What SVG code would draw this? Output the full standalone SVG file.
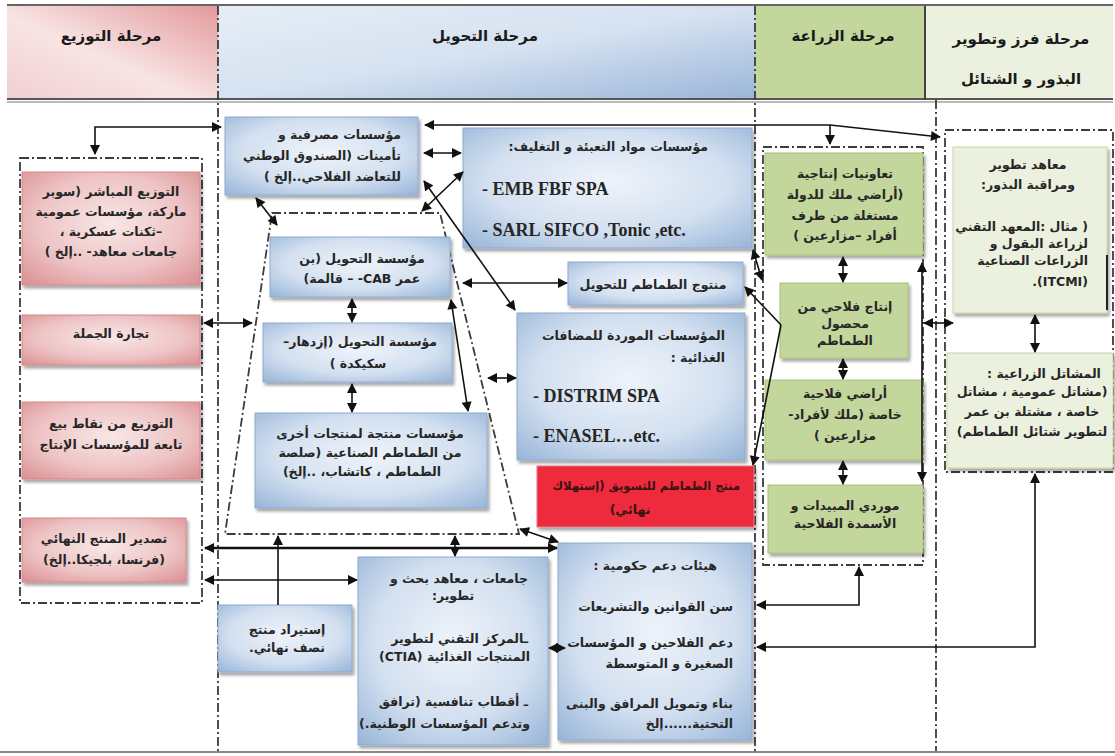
<svg xmlns="http://www.w3.org/2000/svg" width="1115" height="756" viewBox="0 0 1115 756">
<defs>
<style>
.t{font-family:"DejaVu Sans",sans-serif;font-size:12.5px;font-weight:bold;fill:#262626;direction:rtl}
.m{text-anchor:middle}
.r{text-anchor:start}
.h{font-size:15px;fill:#1a1a1a}
.lat{font-family:"Liberation Serif",serif;font-size:18px;font-weight:bold;fill:#262626;direction:ltr;text-anchor:start}
.nb{fill:url(#gB);stroke:#8eaad3;stroke-width:1}
.np{fill:url(#gP);stroke:#d4898b;stroke-width:1}
.ng{fill:#c3d69b;stroke:#a9c078;stroke-width:1}
.nl{fill:#ebf1de;stroke:#c6d7a4;stroke-width:1}
.nr{fill:#ee2b3e;stroke:#e07a84;stroke-width:1}
.grp{fill:none;stroke:#3c3c3c;stroke-width:1.8;stroke-dasharray:9 3 2 3}
.sep{stroke:#3c3c3c;stroke-width:1.8;stroke-dasharray:9 3 2 3;fill:none}
.c{fill:none;stroke:#111;stroke-width:1.6;marker-start:url(#a);marker-end:url(#a)}
.c1{fill:none;stroke:#111;stroke-width:1.6;marker-end:url(#a)}
.sh{filter:url(#sh)}
</style>
<marker id="a" viewBox="0 0 10 10" refX="9" refY="5" markerWidth="11" markerHeight="10" markerUnits="userSpaceOnUse" orient="auto-start-reverse"><path d="M0,0 L10,5 L0,10 z" fill="#111"/></marker>
<filter id="sh" x="-10%" y="-10%" width="130%" height="130%"><feDropShadow dx="2" dy="3" stdDeviation="1.5" flood-color="#000" flood-opacity="0.35"/></filter>
<radialGradient id="gB" cx="50%" cy="45%" r="75%"><stop offset="0" stop-color="#eef3fa"/><stop offset="0.55" stop-color="#d3e0f0"/><stop offset="1" stop-color="#95b3d7"/></radialGradient>
<radialGradient id="gP" cx="50%" cy="45%" r="75%"><stop offset="0" stop-color="#f8e6e6"/><stop offset="0.55" stop-color="#eec4c5"/><stop offset="1" stop-color="#d98d90"/></radialGradient>
<linearGradient id="hP" x1="0" y1="1" x2="1" y2="0"><stop offset="0" stop-color="#f1cfd0"/><stop offset="0.45" stop-color="#f8e4e4"/><stop offset="1" stop-color="#e29a9c"/></linearGradient>
<linearGradient id="hB" x1="0" y1="0" x2="1" y2="1"><stop offset="0" stop-color="#e6edf6"/><stop offset="0.5" stop-color="#d6e2f1"/><stop offset="1" stop-color="#9ab5d9"/></linearGradient>
</defs>

<!-- header -->
<g id="header">
<rect x="7" y="6" width="211" height="94" fill="url(#hP)"/>
<rect x="218" y="6" width="537" height="94" fill="url(#hB)"/>
<rect x="755" y="6" width="170" height="94" fill="#c3d69b"/>
<rect x="925" y="6" width="188" height="94" fill="#ebf1de"/>
<line x1="7" y1="5" x2="1113" y2="5" stroke="#666" stroke-width="2"/>
<line x1="7" y1="99" x2="1113" y2="99" stroke="#555" stroke-width="2"/>
<line x1="7" y1="102" x2="1113" y2="102" stroke="#777" stroke-width="1.2"/>
<line x1="925" y1="6" x2="925" y2="100" stroke="#444" stroke-width="2"/>
<text class="t h m" x="111" y="41">مرحلة التوزيع</text>
<text class="t h m" x="485" y="41">مرحلة التحويل</text>
<text class="t h m" x="843" y="41">مرحلة الزراعة</text>
<text class="t h m" x="1021" y="44">مرحلة فرز وتطوير</text>
<text class="t h m" x="1021" y="84">البذور و الشتائل</text>
</g>

<!-- separators -->
<g id="separators">
<line class="sep" x1="218" y1="6" x2="218" y2="752"/>
<line class="sep" x1="755" y1="6" x2="755" y2="752"/>
<line class="sep" x1="936" y1="100" x2="936" y2="752"/>
<line x1="0" y1="752" x2="1115" y2="752" stroke="#888" stroke-width="2"/>
</g>

<!-- group frames -->
<g id="frames">
<rect class="grp" x="20" y="158" width="182" height="445"/>
<polygon class="grp" points="272,213 440,213 519,534 225,534"/>
<rect class="grp" x="763" y="147" width="160" height="418"/>
<rect class="grp" x="945" y="130" width="168" height="342"/>
</g>

<!-- distribution -->
<g id="n-dist-direct"><rect class="np sh" x="22" y="172" width="178" height="113"/>
<text class="t m" x="111" y="196">التوزيع المباشر (سوبر</text>
<text class="t m" x="111" y="216">ماركة، مؤسسات عمومية</text>
<text class="t m" x="111" y="236">–ثكنات عسكرية ،</text>
<text class="t m" x="111" y="256">جامعات معاهد- ..إلخ )</text></g>
<g id="n-wholesale"><rect class="np sh" x="22" y="315" width="178" height="50"/>
<text class="t m" x="111" y="338">تجارة الجملة</text></g>
<g id="n-pos"><rect class="np sh" x="22" y="402" width="178" height="77"/>
<text class="t m" x="111" y="428">التوزيع من نقاط بيع</text>
<text class="t m" x="111" y="449">تابعة للمؤسسات الإنتاج</text></g>
<g id="n-export"><rect class="np sh" x="22" y="518" width="164" height="64"/>
<text class="t m" x="104" y="543">تصدير المنتج النهائي</text>
<text class="t m" x="104" y="564">(فرنسا، بلجيكا..إلخ)</text></g>

<!-- transformation -->
<g id="n-bank"><rect class="nb sh" x="225" y="117" width="193" height="78"/>
<text class="t r" x="401" y="139">مؤسسات مصرفية و</text>
<text class="t r" x="401" y="160">تأمينات (الصندوق الوطني</text>
<text class="t r" x="401" y="181">للتعاضد الفلاحي..إلخ )</text></g>
<g id="n-pack"><rect class="nb sh" x="463" y="128" width="289" height="120"/>
<text class="t r" x="708" y="151">مؤسسات مواد التعبئة و التغليف:</text>
<text class="lat" x="482" y="195">- EMB FBF SPA</text>
<text class="lat" x="482" y="236">- SARL SIFCO ,Tonic ,etc.</text></g>
<g id="n-tomato-transform"><rect class="nb sh" x="568" y="262" width="175" height="43"/>
<text class="t m" x="653" y="289">منتوج الطماطم للتحويل</text></g>
<g id="n-additives"><rect class="nb sh" x="517" y="313" width="228" height="147"/>
<text class="t r" x="725" y="340">المؤسسات الموردة للمضافات</text>
<text class="t r" x="725" y="362">الغذائية :</text>
<text class="lat" x="533" y="402">- DISTRIM SPA</text>
<text class="lat" x="533" y="442">- ENASEL…etc.</text></g>
<g id="n-red"><rect class="nr sh" x="537" y="466" width="217" height="61"/>
<text class="t r" x="740" y="490" style="fill:#3a1212;font-size:11.5px">منتج الطماطم للتسويق (إستهلاك</text>
<text class="t m" x="630" y="514" style="fill:#3a1212">نهائي)</text></g>
<g id="n-gov"><rect class="nb sh" x="558" y="543" width="194" height="197"/>
<text class="t r" x="717" y="570">هيئات دعم حكومية :</text>
<text class="t r" x="733" y="611">سن القوانين والتشريعات</text>
<text class="t r" x="733" y="647">دعم الفلاحين و المؤسسات</text>
<text class="t r" x="733" y="668">الصغيرة و المتوسطة</text>
<text class="t r" x="733" y="708">بناء وتمويل المرافق والبنى</text>
<text class="t r" x="733" y="728">التحتية......إلخ</text></g>
<g id="n-univ"><rect class="nb sh" x="358" y="557" width="190" height="188"/>
<text class="t r" x="528" y="583">جامعات ، معاهد بحث و</text>
<text class="t m" x="453" y="600">تطوير:</text>
<text class="t r" x="528" y="643">ـالمركز التقني لتطوير</text>
<text class="t r" x="530" y="661">المنتجات الغذائية (CTIA)</text>
<text class="t r" x="528" y="706">ـ أقطاب تنافسية (ترافق</text>
<text class="t r" x="530" y="728">وتدعم المؤسسات الوطنية.)</text></g>
<g id="n-import"><rect class="nb sh" x="218" y="605" width="134" height="67"/>
<text class="t m" x="287" y="634">إستيراد منتج</text>
<text class="t m" x="287" y="652">نصف نهائي.</text></g>
<g id="n-other"><rect class="nb sh" x="255" y="413" width="232" height="95"/>
<text class="t m" x="370" y="438">مؤسسات منتجة لمنتجات أخرى</text>
<text class="t m" x="370" y="457">من الطماطم الصناعية (صلصة</text>
<text class="t m" x="362" y="476">الطماطم ، كاتشاب، ..إلخ)</text></g>
<g id="n-cab"><rect class="nb sh" x="270" y="237" width="180" height="60"/>
<text class="t m" x="362" y="263">مؤسسة التحويل (بن</text>
<text class="t m" x="362" y="283">عمر CAB- – قالمة)</text></g>
<g id="n-izdihar"><rect class="nb sh" x="263" y="323" width="189" height="59"/>
<text class="t m" x="360" y="346">مؤسسة التحويل (إزدهار–</text>
<text class="t m" x="358" y="368">سكيكدة )</text></g>

<!-- agriculture -->
<g id="n-coop"><rect class="ng sh" x="765" y="153" width="158" height="102"/>
<text class="t m" x="845" y="178">تعاونيات إنتاجية</text>
<text class="t m" x="845" y="199">(أراضي ملك للدولة</text>
<text class="t m" x="845" y="220">مستغلة من طرف</text>
<text class="t m" x="845" y="240">أفراد –مزارعين )</text></g>
<g id="n-prod"><rect class="ng sh" x="780" y="283" width="128" height="75"/>
<text class="t m" x="845" y="311">إنتاج فلاحي من</text>
<text class="t m" x="845" y="328">محصول</text>
<text class="t m" x="845" y="345">الطماطم</text></g>
<g id="n-private"><rect class="ng sh" x="765" y="380" width="158" height="80"/>
<text class="t m" x="845" y="398">أراضي فلاحية</text>
<text class="t m" x="845" y="419">خاصة (ملك لأفراد-</text>
<text class="t m" x="845" y="440">مزارعين )</text></g>
<g id="n-suppliers"><rect class="ng sh" x="768" y="485" width="155" height="68"/>
<text class="t m" x="845" y="510">موردي المبيدات و</text>
<text class="t m" x="845" y="528">الأسمدة الفلاحية</text></g>

<!-- seeds -->
<g id="n-inst"><rect class="nl sh" x="953" y="147" width="154" height="166"/>
<line x1="1107" y1="255" x2="1107" y2="310" stroke="#222" stroke-width="2"/>
<text class="t m" x="1028" y="169">معاهد تطوير</text>
<text class="t m" x="1028" y="189">ومراقبة البذور:</text>
<text class="t r" x="1088" y="231">( مثال :المعهد التقني</text>
<text class="t r" x="1088" y="248">لزراعة البقول و</text>
<text class="t r" x="1088" y="265">الزراعات الصناعية</text>
<text class="t r" x="1088" y="286">(ITCMI).</text></g>
<g id="n-nursery"><rect class="nl sh" x="947" y="353" width="166" height="115"/>
<text class="t m" x="1044" y="378">المشاتل الزراعية :</text>
<text class="t m" x="1032" y="396">(مشاتل عمومية ، مشاتل</text>
<text class="t m" x="1032" y="416">خاصة ، مشتلة بن عمر</text>
<text class="t m" x="1032" y="436">لتطوير شتائل الطماطم)</text></g>

<!-- connectors -->
<g id="connectors">
<path class="c" d="M95,154 L95,127 L221,127"/>
<path class="c" d="M425,125 L830,125 L940,137"/>
<path class="c1" d="M830,125 L830,144"/>
<path class="c" d="M424,153 L461,153"/>
<path class="c" d="M463,172 L422,211"/>
<path class="c" d="M424,181 L515,310"/>
<path class="c" d="M256,198 L277,225"/>
<path class="c" d="M204,323 L252,323"/>
<path class="c" d="M352,299 L352,322"/>
<path class="c" d="M352,384 L352,412"/>
<path class="c" d="M451,300 L468,411"/>
<path class="c" d="M463,283 L567,283"/>
<path class="c" d="M488,378 L516,378"/>
<path class="c1" d="M781,325 L745,287"/>
<path class="c1" d="M781,325 L753,465"/>
<path class="c" d="M753,250 L762,280"/>
<path class="c" d="M843,257 L843,282"/>
<path class="c" d="M843,359 L843,379"/>
<path class="c" d="M843,461 L843,484"/>
<path class="c" d="M922,263 L922,481"/>
<path class="c" d="M924,323 L953,323"/>
<path class="c" d="M1035,315 L1035,352"/>
<path class="c" d="M757,605 L859,605 L859,567"/>
<path class="c" d="M757,647 L1035,647 L1035,474"/>
<path class="c" d="M549,648 L565,648"/>
<path class="c" d="M205,548 L557,548" style="stroke-width:2.4"/>
<path class="c" d="M205,580 L357,580"/>
<path class="c1" d="M278,605 L278,536"/>
<path class="c" d="M455,536 L455,556"/>
<path class="c" d="M520,529 L558,542"/>
</g>
</svg>
